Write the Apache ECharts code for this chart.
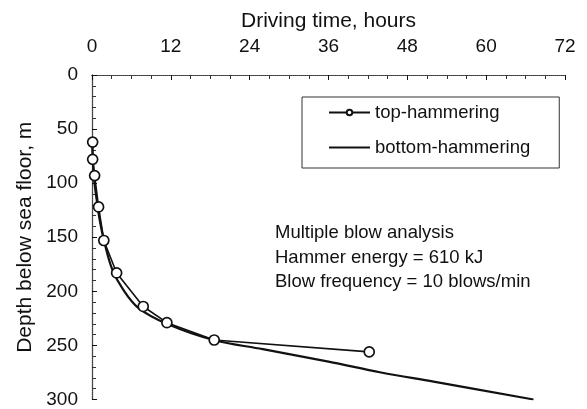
<!DOCTYPE html>
<html>
<head>
<meta charset="utf-8">
<script src="https://cdn.jsdelivr.net/npm/echarts@6/dist/echarts.min.js"></script>
<style>
  html, body { margin: 0; padding: 0; background: #fff; }
  #chart { width: 587px; height: 409px; }
</style>
</head>
<body>
<div id="chart"></div>
<script>
// driving time (hours) vs depth (m)
const topHours = [0.1, 0.1, 0.4, 1.0, 1.8, 3.75, 7.8, 11.4, 18.6, 42.2]
const topDepth = [62, 78, 93, 122, 153, 183, 214, 229, 245, 256]
const bottomHours = [0, 0.3, 0.7, 1.2, 1.9, 3.1, 4.7, 7.0, 11.4, 18.5, 26, 36, 44, 52, 67.2]
const bottomDepth = [60, 95, 115, 135, 155, 180, 198, 215, 230, 245, 253.5, 265, 275, 283.5, 300]
const xTicks = [0, 12, 24, 36, 48, 60, 72]
const yTicks = [0, 50, 100, 150, 200, 250, 300]

const FONT = '"Liberation Sans", Arial, sans-serif'
const myChart = echarts.init(document.getElementById('chart'))

const pair = (xs, ys) => xs.map((x, i) => [x, ys[i]])

const frameLine = { show: true, lineStyle: { color: '#555', width: 1, type: 'dotted' } }

const option = {
  animation: false,
  textStyle: { fontFamily: FONT, color: '#111' },
  grid: { left: 92, top: 75, width: 473, height: 328 },
  title: {
    text: 'Multiple blow analysis\nHammer energy = 610 kJ\nBlow frequency = 10 blows/min',
    left: 275,
    top: 221,
    padding: 0,
    textStyle: { fontFamily: FONT, fontSize: 18.5, fontWeight: 'normal', color: '#111', lineHeight: 24.5 }
  },
  legend: {
    orient: 'vertical',
    left: 302,
    top: 97,
    padding: [6, 29, 11, 26],
    itemGap: 16,
    itemWidth: 41,
    itemHeight: 7,
    borderColor: '#333',
    borderWidth: 1,
    textStyle: { fontFamily: FONT, fontSize: 18.5, color: '#111' },
    data: [
      { name: 'top-hammering' },
      { name: 'bottom-hammering', itemStyle: { opacity: 0 } }
    ]
  },
  xAxis: [
    {
      type: 'value',
      position: 'top',
      min: xTicks[0],
      max: xTicks[xTicks.length - 1],
      interval: 12,
      name: 'Driving time, hours',
      nameLocation: 'middle',
      nameGap: 43,
      nameTextStyle: { fontFamily: FONT, fontSize: 21, color: '#111' },
      axisLine: { show: true, lineStyle: { color: '#111', width: 1.2 } },
      axisTick: { show: true, inside: true, length: 5, lineStyle: { color: '#111' } },
      minorTick: { show: true, splitNumber: 4, length: 4, lineStyle: { color: '#333' } },
      axisLabel: { fontFamily: FONT, fontSize: 19, color: '#111', margin: 19 },
      splitLine: { show: false }
    },
    {
      type: 'value',
      position: 'bottom',
      min: xTicks[0],
      max: xTicks[xTicks.length - 1],
      axisLine: frameLine,
      axisTick: { show: false },
      axisLabel: { show: false },
      splitLine: { show: false }
    }
  ],
  yAxis: [
    {
      type: 'value',
      inverse: true,
      min: yTicks[0],
      max: yTicks[yTicks.length - 1],
      interval: 50,
      name: 'Depth below sea floor, m',
      nameLocation: 'middle',
      nameGap: 56,
      nameTextStyle: { fontFamily: FONT, fontSize: 21, color: '#111' },
      axisLine: { show: true, lineStyle: { color: '#111', width: 1.2 } },
      axisTick: { show: true, inside: true, length: 5, lineStyle: { color: '#111' } },
      minorTick: { show: true, splitNumber: 5, length: 4, lineStyle: { color: '#333' } },
      axisLabel: { fontFamily: FONT, fontSize: 19, color: '#111', margin: 14 },
      splitLine: { show: false }
    },
    {
      type: 'value',
      position: 'right',
      inverse: true,
      min: yTicks[0],
      max: yTicks[yTicks.length - 1],
      axisLine: frameLine,
      axisTick: { show: false },
      axisLabel: { show: false },
      splitLine: { show: false }
    }
  ],
  series: [
    {
      name: 'top-hammering',
      type: 'line',
      xAxisIndex: 0,
      yAxisIndex: 0,
      symbol: 'circle',
      symbolSize: 10,
      showAllSymbol: true,
      itemStyle: { color: '#fff', borderColor: '#111', borderWidth: 1.7 },
      lineStyle: { color: '#111', width: 1.6 },
      data: pair(topHours, topDepth)
    },
    {
      name: 'bottom-hammering',
      type: 'line',
      xAxisIndex: 0,
      yAxisIndex: 0,
      smooth: 0.35,
      symbol: 'none',
      itemStyle: { color: '#111' },
      lineStyle: { color: '#111', width: 2.2 },
      data: pair(bottomHours, bottomDepth)
    }
  ]
}

myChart.setOption(option)
</script>
</body>
</html>
